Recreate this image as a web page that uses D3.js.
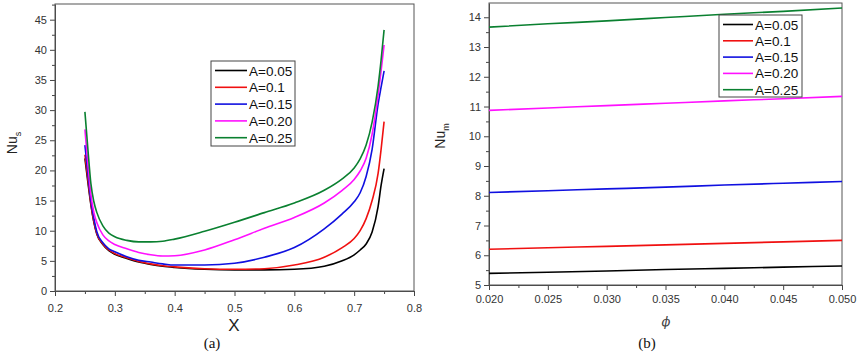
<!DOCTYPE html>
<html>
<head>
<meta charset="utf-8">
<script src="https://cdn.jsdelivr.net/npm/d3@7"></script>
<style>
  body { margin: 0; background: #fff; }
  svg { display: block; font-family: "Liberation Sans", Arial, sans-serif; }
  .tick text { fill: #333; font-size: 11px; }
  .tick line, .domain { stroke: #444; }
</style>
</head>
<body>
<svg width="858" height="353"></svg>
<script>
"use strict";

// series labels and colours
const labels = ["A=0.05", "A=0.1", "A=0.15", "A=0.20", "A=0.25"];
const colors = ["#000000", "#f01010", "#1010e0", "#ff10ff", "#0a8030"];

// panel (a): local Nusselt number along X
const xVals = [0.25, 0.255, 0.26, 0.265, 0.27, 0.28, 0.29, 0.30, 0.32, 0.34, 0.36, 0.38, 0.40,
  0.45, 0.50, 0.55, 0.60, 0.65, 0.68, 0.70, 0.71, 0.72, 0.73, 0.74, 0.745, 0.75];
const nuS005 = [22.0, 18.0, 14.3, 11.4, 9.4, 7.7, 6.7, 6.1, 5.4, 4.8, 4.4, 4.1, 3.9,
  3.6, 3.5, 3.5, 3.6, 4.1, 5.0, 6.0, 6.8, 7.8, 9.8, 14.0, 17.5, 20.3];
const nuS010 = [22.6, 18.5, 14.5, 11.5, 9.5, 7.8, 6.8, 6.2, 5.5, 4.9, 4.5, 4.2, 4.0,
  3.7, 3.6, 3.7, 4.3, 5.6, 7.2, 8.7, 10.0, 12.0, 15.0, 19.5, 23.5, 28.1];
const nuS015 = [24.2, 19.5, 15.0, 12.0, 9.8, 8.0, 7.0, 6.5, 5.7, 5.1, 4.8, 4.5, 4.3,
  4.3, 4.6, 5.6, 7.2, 10.3, 12.8, 14.8, 16.3, 19.0, 23.5, 31.0, 33.8, 36.5];
const nuS020 = [26.8, 21.0, 16.0, 13.0, 11.3, 9.3, 8.3, 7.7, 7.0, 6.4, 6.0, 5.8, 5.85,
  6.8, 8.5, 10.4, 12.2, 14.6, 16.7, 18.5, 19.9, 22.0, 26.0, 32.5, 36.5, 40.8];
const nuS025 = [29.7, 23.5, 17.8, 14.8, 13.0, 10.8, 9.6, 9.0, 8.4, 8.15, 8.15, 8.25, 8.6,
  9.9, 11.4, 13.0, 14.6, 16.7, 18.6, 20.4, 21.9, 24.2, 28.0, 34.0, 38.3, 43.3];
const nuSSeries = [nuS005, nuS010, nuS015, nuS020, nuS025];

// panel (b): mean Nusselt number against phi
const phiVals = [0.020, 0.025, 0.030, 0.035, 0.040, 0.045, 0.050];
const nuM005 = [5.39, 5.43, 5.47, 5.52, 5.56, 5.60, 5.64];
const nuM010 = [6.20, 6.25, 6.30, 6.35, 6.40, 6.45, 6.50];
const nuM015 = [8.11, 8.17, 8.23, 8.29, 8.36, 8.42, 8.48];
const nuM020 = [10.87, 10.95, 11.03, 11.11, 11.19, 11.26, 11.34];
const nuM025 = [13.67, 13.78, 13.88, 13.99, 14.10, 14.20, 14.31];
const nuMSeries = [nuM005, nuM010, nuM015, nuM020, nuM025];

const xTicksA = [0.2, 0.3, 0.4, 0.5, 0.6, 0.7, 0.8];
const yTicksA = [0, 5, 10, 15, 20, 25, 30, 35, 40, 45];
const xTicksB = [0.020, 0.025, 0.030, 0.035, 0.040, 0.045, 0.050];
const yTicksB = [5, 6, 7, 8, 9, 10, 11, 12, 13, 14];

const svg = d3.select("svg");
svg.append("rect").attr("width", 858).attr("height", 353).attr("fill", "#fff");

/////////////////////////////////////////////////////
// one panel: frame, axes, minor ticks, lines, legend
/////////////////////////////////////////////////////
function drawPanel(opt) {
  const g = svg.append("g");
  const x = d3.scaleLinear().domain(opt.xDomain).range([opt.left, opt.right]);
  const y = d3.scaleLinear().domain(opt.yDomain).range([opt.bottom, opt.top]);

  // major ticks
  g.append("g")
    .attr("transform", `translate(0,${opt.bottom})`)
    .call(d3.axisBottom(x).tickValues(opt.xTicks).tickFormat(opt.xFormat).tickSize(5).tickPadding(opt.xPad).tickSizeOuter(0));
  g.append("g")
    .attr("transform", `translate(${opt.left},0)`)
    .call(d3.axisLeft(y).tickValues(opt.yTicks).tickFormat(d3.format("d")).tickSize(5).tickPadding(3).tickSizeOuter(0));

  // minor ticks
  g.append("g")
    .attr("transform", `translate(0,${opt.bottom})`)
    .call(d3.axisBottom(x).tickValues(opt.xMinor).tickFormat("").tickSize(3).tickSizeOuter(0))
    .select(".domain").remove();
  g.append("g")
    .attr("transform", `translate(${opt.left},0)`)
    .call(d3.axisLeft(y).tickValues(opt.yMinor).tickFormat("").tickSize(3).tickSizeOuter(0))
    .select(".domain").remove();

  // frame
  g.append("rect")
    .attr("x", opt.left).attr("y", opt.top)
    .attr("width", opt.right - opt.left).attr("height", opt.bottom - opt.top)
    .attr("fill", "none").attr("stroke", "#555").attr("stroke-width", 1);

  const line = d3.line()
    .x((d) => x(d[0]))
    .y((d) => y(d[1]))
    .curve(d3.curveMonotoneX);

  opt.series.forEach((vals, i) => {
    g.append("path")
      .datum(opt.xData.map((v, j) => [v, vals[j]]))
      .attr("fill", "none")
      .attr("stroke", colors[i])
      .attr("stroke-width", 1.6)
      .attr("d", line);
  });

  // legend
  const lg = g.append("g").attr("transform", `translate(${opt.legend.x},${opt.legend.y})`);
  lg.append("rect")
    .attr("width", opt.legend.w).attr("height", opt.legend.h)
    .attr("fill", "#fff").attr("stroke", "#444");
  labels.forEach((lab, i) => {
    const cy = opt.legend.first + i * opt.legend.step;
    lg.append("line")
      .attr("x1", 4).attr("x2", 4 + opt.legend.lineLen)
      .attr("y1", cy).attr("y2", cy)
      .attr("stroke", colors[i]).attr("stroke-width", 1.6);
    lg.append("text")
      .attr("x", 6 + opt.legend.lineLen).attr("y", cy + 5)
      .attr("font-size", opt.legend.font)
      .attr("fill", "#111")
      .text(lab);
  });
  return g;
}

drawPanel({
  left: 55, right: 414, top: 4, bottom: 291,
  xDomain: [0.2, 0.8], yDomain: [0, 47.6],
  xTicks: xTicksA, yTicks: yTicksA,
  xMinor: [0.25, 0.35, 0.45, 0.55, 0.65, 0.75],
  yMinor: [2.5, 7.5, 12.5, 17.5, 22.5, 27.5, 32.5, 37.5, 42.5, 47.5],
  xFormat: d3.format(".1f"), xPad: 8,
  xData: xVals, series: nuSSeries,
  legend: { x: 211, y: 61, w: 84, h: 85, first: 9.5, step: 16.8, lineLen: 32, font: 13.5 }
});

drawPanel({
  left: 489, right: 842, top: 3, bottom: 285,
  xDomain: [0.020, 0.050], yDomain: [5, 14.48],
  xTicks: xTicksB, yTicks: yTicksB,
  xMinor: [0.0225, 0.0275, 0.0325, 0.0375, 0.0425, 0.0475],
  yMinor: [5.5, 6.5, 7.5, 8.5, 9.5, 10.5, 11.5, 12.5, 13.5, 14.5].filter((v) => v <= 14.48),
  xFormat: d3.format(".3f"), xPad: 5,
  xData: phiVals, series: nuMSeries,
  legend: { x: 719, y: 15, w: 83, h: 82, first: 9.5, step: 16.3, lineLen: 30, font: 13.5 }
});

/////////////////////////////////////////////////////
// axis titles and captions
/////////////////////////////////////////////////////
const ylabA = svg.append("text")
  .attr("transform", "translate(17,143) rotate(-90)")
  .attr("text-anchor", "middle").attr("font-size", 14).attr("fill", "#222");
ylabA.append("tspan").text("Nu");
ylabA.append("tspan").attr("font-size", 9).attr("dy", 4).text("s");

const ylabB = svg.append("text")
  .attr("transform", "translate(445,136) rotate(-90)")
  .attr("text-anchor", "middle").attr("font-size", 14).attr("fill", "#222");
ylabB.append("tspan").text("Nu");
ylabB.append("tspan").attr("font-size", 9).attr("dy", 4).text("m");

svg.append("text")
  .attr("x", 234).attr("y", 331)
  .attr("text-anchor", "middle").attr("font-size", 17).attr("fill", "#222")
  .text("X");

svg.append("text")
  .attr("x", 666).attr("y", 326)
  .attr("text-anchor", "middle").attr("font-size", 13).attr("font-style", "italic")
  .attr("font-family", "DejaVu Serif, serif").attr("fill", "#444")
  .text("\u03d5");

svg.append("text")
  .attr("x", 212).attr("y", 348)
  .attr("text-anchor", "middle").attr("font-size", 15)
  .attr("font-family", "Liberation Serif, Times New Roman, serif").attr("fill", "#111")
  .text("(a)");

svg.append("text")
  .attr("x", 647).attr("y", 348)
  .attr("text-anchor", "middle").attr("font-size", 15)
  .attr("font-family", "Liberation Serif, Times New Roman, serif").attr("fill", "#111")
  .text("(b)");
</script>
</body>
</html>
